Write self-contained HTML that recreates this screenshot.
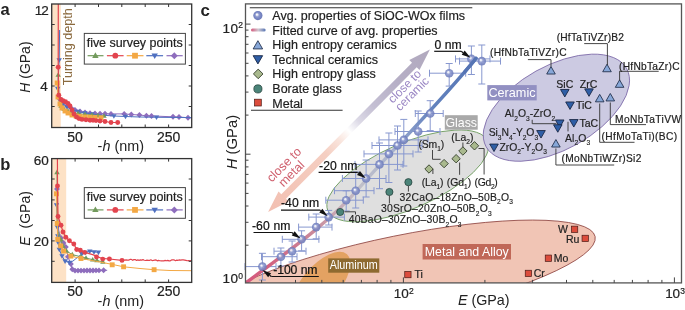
<!DOCTYPE html>
<html><head><meta charset="utf-8"><style>
html,body{margin:0;padding:0;background:#fff;width:685px;height:310px;overflow:hidden;font-family:"Liberation Sans",sans-serif}
svg{display:block;will-change:transform}
</style></head><body>
<svg width="685" height="310" viewBox="0 0 685 310" font-family="Liberation Sans, sans-serif">
<rect width="685" height="310" fill="#fff"/>
<defs>
<radialGradient id="sph" cx="0.5" cy="0.5" r="0.5" fx="0.37" fy="0.36">
 <stop offset="0" stop-color="#ffffff"/>
 <stop offset="0.17" stop-color="#eef0f8"/>
 <stop offset="0.42" stop-color="#909cd0"/>
 <stop offset="0.72" stop-color="#7886c3"/>
 <stop offset="1" stop-color="#6b7ab8"/>
</radialGradient>
<linearGradient id="fitg" gradientUnits="userSpaceOnUse" x1="246" y1="283" x2="478" y2="57">
 <stop offset="0" stop-color="#d4587c"/>
 <stop offset="0.1" stop-color="#d26482"/>
 <stop offset="0.27" stop-color="#ca8c9c"/>
 <stop offset="0.36" stop-color="#c8aab6"/>
 <stop offset="0.45" stop-color="#c2c0c8"/>
 <stop offset="0.6" stop-color="#aab4d0"/>
 <stop offset="0.72" stop-color="#7890c4"/>
 <stop offset="0.8" stop-color="#6282bd"/>
 <stop offset="1" stop-color="#5574b4"/>
</linearGradient>
<linearGradient id="legfit" x1="0" y1="0" x2="1" y2="0">
 <stop offset="0" stop-color="#d4587c"/>
 <stop offset="0.5" stop-color="#d0c8d0"/>
 <stop offset="1" stop-color="#5574b4"/>
</linearGradient>
<linearGradient id="arrg" gradientUnits="userSpaceOnUse" x1="429.9" y1="49.4" x2="268.1" y2="212.1">
 <stop offset="0" stop-color="#b1a9be"/>
 <stop offset="0.2" stop-color="#b6afc6"/>
 <stop offset="0.35" stop-color="#c4bfd3"/>
 <stop offset="0.44" stop-color="#dcd9e6"/>
 <stop offset="0.5" stop-color="#ffffff"/>
 <stop offset="0.56" stop-color="#f9e4dc"/>
 <stop offset="0.64" stop-color="#f5cfc2"/>
 <stop offset="1" stop-color="#f2bfb1"/>
</linearGradient>
<clipPath id="clipc"><rect x="245.5" y="4" width="436" height="279"/></clipPath>
<clipPath id="clipa"><rect x="51.7" y="4" width="140" height="123.5"/></clipPath>
<clipPath id="clipb"><rect x="51.7" y="158.6" width="140" height="123.8"/></clipPath>
</defs>
<g clip-path="url(#clipc)">
<ellipse cx="401.3" cy="276" rx="197.8" ry="40.5" transform="rotate(-11.5 401.3 276)" fill="#f1c5b5" stroke="#8e4642" stroke-width="0.8"/>
<ellipse cx="320.5" cy="284.8" rx="40.5" ry="18.6" transform="rotate(-49.7 320.5 284.8)" fill="#e3a262"/>
<ellipse cx="407.7" cy="175.9" rx="87.1" ry="32.6" transform="rotate(-23.6 407.7 175.9)" fill="#dfdfdf" stroke="#6a9a5a" stroke-width="0.8"/>
<ellipse cx="556.4" cy="107.7" rx="80.4" ry="41.9" transform="rotate(-29.1 556.4 107.7)" fill="#cccae2" stroke="#7d6aa8" stroke-width="0.8"/>
</g>
<path d="M429.9,49.4 L409.3,59.9 L412.0,62.7 L281.3,194.2 L278.5,191.4 L268.1,212.1 L288.7,201.6 L286.0,198.8 L416.7,67.3 L419.5,70.1Z" fill="url(#arrg)"/>
<g font-family="Liberation Sans, sans-serif">
<text font-size="12" fill="#9a86c4" transform="translate(392.8,103.8) rotate(-45)">close to</text>
<text font-size="12" fill="#9a86c4" transform="translate(400.1,111.4) rotate(-45)">ceramic</text>
<text font-size="12.5" fill="#d0606e" transform="translate(271.7,182.8) rotate(-45)">close to</text>
<text font-size="12.5" fill="#d0606e" transform="translate(283.5,187.5) rotate(-45)">metal</text>
</g>
<g stroke="#8797cf" stroke-width="1" fill="none">
<path d="M245,266.6H276M245,263.1V270.1M276,263.1V270.1M262.4,253.3V280M258.9,253.3H265.9M258.9,280H265.9"/>
<path d="M261.5,256.7H297M261.5,253.2V260.2M297,253.2V260.2M280.9,248V266M277.4,248H284.4M277.4,266H284.4"/>
<path d="M274,251.2H306M274,247.7V254.7M306,247.7V254.7M292.1,241V262M288.6,241H295.6M288.6,262H295.6"/>
<path d="M282.3,239.3H318.9M282.3,235.8V242.8M318.9,235.8V242.8M301.6,230.8V250.8M298.1,230.8H305.1M298.1,250.8H305.1"/>
<path d="M298.6,227.1H332M298.6,223.6V230.6M332,223.6V230.6M316.2,214V238.8M312.7,214H319.7M312.7,238.8H319.7"/>
<path d="M308.8,217.1H344.4M308.8,213.6V220.6M344.4,213.6V220.6M328.7,210.4V225M325.2,210.4H332.2M325.2,225H332.2"/>
<path d="M325.8,200.2H363.3M325.8,196.7V203.7M363.3,196.7V203.7M346.2,190.8V211M342.7,190.8H349.7M342.7,211H349.7"/>
<path d="M334.5,190.7H374M334.5,187.2V194.2M374,187.2V194.2M355.7,172V208M352.2,172H359.2M352.2,208H359.2"/>
<path d="M342.4,178.5H386M342.4,175.0V182.0M386,175.0V182.0M366.1,160V197M362.6,160H369.6M362.6,197H369.6"/>
<path d="M355,164.4H403M355,160.9V167.9M403,160.9V167.9M379.5,143V188.7M376.0,143H383.0M376.0,188.7H383.0"/>
<path d="M364,153.9H413M364,150.4V157.4M413,150.4V157.4M388.9,133V182.5M385.4,133H392.4M385.4,182.5H392.4"/>
<path d="M372,145.5H422M372,142.0V149.0M422,142.0V149.0M397.5,126V170M394.0,126H401.0M394.0,170H401.0"/>
<path d="M379,139.9H428M379,136.4V143.4M428,136.4V143.4M403.8,119.4V166M400.3,119.4H407.3M400.3,166H407.3"/>
<path d="M395,131.5H440M395,128.0V135.0M440,128.0V135.0M418.2,111V152M414.7,111H421.7M414.7,152H421.7"/>
<path d="M415.3,113.5H443.2M415.3,110.0V117.0M443.2,110.0V117.0M430.2,100.7V130.6M426.7,100.7H433.7M426.7,130.6H433.7"/>
<path d="M429.5,73.2H465.7M429.5,69.7V76.7M465.7,69.7V76.7M449.2,63.5V86.1M445.7,63.5H452.7M445.7,86.1H452.7"/>
<path d="M455.5,58.9H490M455.5,55.4V62.4M490,55.4V62.4M471.4,46V74.5M467.9,46H474.9M467.9,74.5H474.9"/>
<path d="M459.5,61.1H500.5M459.5,57.6V64.6M500.5,57.6V64.6M481.8,45V84M478.3,45H485.3M478.3,84H485.3"/>
</g>
<path d="M245.8,283 C290,250 330,222 360,187 C390,152 440,103 476,58.4" stroke="url(#fitg)" stroke-width="3.4" fill="none" stroke-linecap="round" clip-path="url(#clipc)"/>
<circle cx="262.4" cy="266.6" r="4.3" fill="url(#sph)" fill-opacity="0.88"/>
<circle cx="280.9" cy="256.7" r="4.3" fill="url(#sph)" fill-opacity="0.88"/>
<circle cx="292.1" cy="251.2" r="4.3" fill="url(#sph)" fill-opacity="0.88"/>
<circle cx="301.6" cy="239.3" r="4.3" fill="url(#sph)" fill-opacity="0.88"/>
<circle cx="316.2" cy="227.1" r="4.3" fill="url(#sph)" fill-opacity="0.88"/>
<circle cx="328.7" cy="217.1" r="4.3" fill="url(#sph)" fill-opacity="0.88"/>
<circle cx="346.2" cy="200.2" r="4.3" fill="url(#sph)" fill-opacity="0.88"/>
<circle cx="355.7" cy="190.7" r="4.3" fill="url(#sph)" fill-opacity="0.88"/>
<circle cx="366.1" cy="178.5" r="4.3" fill="url(#sph)" fill-opacity="0.88"/>
<circle cx="379.5" cy="164.4" r="4.3" fill="url(#sph)" fill-opacity="0.88"/>
<circle cx="388.9" cy="153.9" r="4.3" fill="url(#sph)" fill-opacity="0.88"/>
<circle cx="397.5" cy="145.5" r="4.3" fill="url(#sph)" fill-opacity="0.88"/>
<circle cx="403.8" cy="139.9" r="4.3" fill="url(#sph)" fill-opacity="0.88"/>
<circle cx="418.2" cy="131.5" r="4.3" fill="url(#sph)" fill-opacity="0.88"/>
<circle cx="430.2" cy="113.5" r="4.3" fill="url(#sph)" fill-opacity="0.88"/>
<circle cx="449.2" cy="73.2" r="4.3" fill="url(#sph)" fill-opacity="0.88"/>
<circle cx="471.4" cy="58.9" r="4.3" fill="url(#sph)" fill-opacity="0.88"/>
<circle cx="481.8" cy="61.1" r="4.3" fill="url(#sph)" fill-opacity="0.88"/>
<path d="M464.8,71.9 C466.7,69.6 468.6,67.4 470.5,65.1 C472.4,62.9 474.2,60.6 476,58.4" stroke="#5574b4" stroke-width="3.4" fill="none" stroke-linecap="round"/>
<rect x="245.5" y="3.9" width="436" height="279" fill="none" stroke="#555" stroke-width="1.3"/>
<path d="M261.6,282.9V279.9M295.5,282.9V279.9M321.8,282.9V279.9M343.2,282.9V279.9M361.4,282.9V279.9M377.1,282.9V279.9M390.9,282.9V279.9M403.4,282.9V277.4M484.9,282.9V279.9M532.6,282.9V279.9M566.5,282.9V279.9M592.8,282.9V279.9M614.2,282.9V279.9M632.4,282.9V279.9M648.1,282.9V279.9M661.9,282.9V279.9M674.4,282.9V277.4M245.5,245.2H248.5M245.5,222.3H248.5M245.5,206.0H248.5M245.5,193.4H248.5M245.5,183.1H248.5M245.5,174.4H248.5M245.5,166.9H248.5M245.5,160.2H248.5M245.5,154.2H250.5M245.5,115.1H248.5M245.5,92.1H248.5M245.5,75.9H248.5M245.5,63.3H248.5M245.5,53.0H248.5M245.5,44.3H248.5M245.5,36.7H248.5M245.5,30.1H248.5M245.5,24.1H250.5" stroke="#444" stroke-width="1" fill="none"/>
<path d="M249.8,7.8H472.3M251,110.2H342.6" stroke="#333" stroke-width="1.1"/>
<circle cx="257.9" cy="15.6" r="4.6" fill="url(#sph)"/>
<rect x="251" y="28.4" width="14.6" height="3" rx="1.5" fill="url(#legfit)"/>
<path d="M257.9,40.68L262.65,48.94L253.15,48.94Z" fill="#87a7d8" stroke="#1e2c48" stroke-width="0.85"/>
<path d="M257.9,63.92L262.65,55.66L253.15,55.66Z" fill="#2f5ea6" stroke="#15223f" stroke-width="0.85"/>
<path d="M258.2,69.10000000000001L263.0,73.9L258.2,78.7L253.39999999999998,73.9Z" fill="#a9b98e" stroke="#2c3624" stroke-width="0.85"/>
<circle cx="257.9" cy="88.9" r="4.1" fill="#4b8479" stroke="#1e3a34" stroke-width="0.7"/>
<rect x="254.50" y="99.20" width="6.8" height="6.8" fill="#dc4c3c" stroke="#4a1a14" stroke-width="0.7"/>
<g font-family="Liberation Sans, sans-serif">
<text x="272.3" y="19.9" font-size="12.5" fill="#1e1e1e" text-anchor="start" textLength="192.8" lengthAdjust="spacing" stroke="#1e1e1e" stroke-width="0.2"  >Avg. properties of SiOC-WOx films</text>
<text x="272.3" y="34.53" font-size="12.5" fill="#1e1e1e" text-anchor="start" textLength="165.3" lengthAdjust="spacing" stroke="#1e1e1e" stroke-width="0.2"  >Fitted curve of avg. properties</text>
<text x="272.3" y="49.16" font-size="12.5" fill="#1e1e1e" text-anchor="start" stroke="#1e1e1e" stroke-width="0.2"  >High entropy ceramics</text>
<text x="272.3" y="63.79" font-size="12.5" fill="#1e1e1e" text-anchor="start" stroke="#1e1e1e" stroke-width="0.2"  >Technical ceramics</text>
<text x="272.3" y="78.42" font-size="12.5" fill="#1e1e1e" text-anchor="start" stroke="#1e1e1e" stroke-width="0.2"  >High entropy glass</text>
<text x="272.3" y="93.05000000000001" font-size="12.5" fill="#1e1e1e" text-anchor="start" stroke="#1e1e1e" stroke-width="0.2"  >Borate glass</text>
<text x="272.3" y="107.68" font-size="12.5" fill="#1e1e1e" text-anchor="start" stroke="#1e1e1e" stroke-width="0.2"  >Metal</text>
</g>
<g font-family="Liberation Sans, sans-serif">
<text x="434.6" y="49.4" font-size="12.2" fill="#111" text-anchor="start" textLength="27" lengthAdjust="spacing" stroke="#111" stroke-width="0.2"  >0 nm</text>
<text x="319.1" y="170.4" font-size="12.2" fill="#111" text-anchor="start" textLength="38.3" lengthAdjust="spacing" stroke="#111" stroke-width="0.2"  >-20 nm</text>
<text x="280.9" y="207.4" font-size="12.2" fill="#111" text-anchor="start" textLength="38.3" lengthAdjust="spacing" stroke="#111" stroke-width="0.2"  >-40 nm</text>
<text x="251.9" y="230.3" font-size="12.2" fill="#111" text-anchor="start" textLength="38.6" lengthAdjust="spacing" stroke="#111" stroke-width="0.2"  >-60 nm</text>
<text x="273.2" y="274.4" font-size="12.2" fill="#111" text-anchor="start" textLength="44.3" lengthAdjust="spacing" stroke="#111" stroke-width="0.2"  >-100 nm</text>
</g>
<path d="M434.2,51.3H461.2" stroke="#111" stroke-width="1.2" fill="none"/>
<path d="M461.2,51.3L463.20,52.68" stroke="#111" stroke-width="1.2" fill="none"/>
<path d="M470.6,57.8L461.78,54.74L464.62,50.62Z" fill="#111"/>
<path d="M318.6,172.4H357.6" stroke="#111" stroke-width="1.2" fill="none"/>
<path d="M357.6,172.4L358.49,173.04" stroke="#111" stroke-width="1.2" fill="none"/>
<path d="M365.8,178.3L357.03,175.07L359.95,171.01Z" fill="#111"/>
<path d="M281,210.1H320.2" stroke="#111" stroke-width="1.2" fill="none"/>
<path d="M320.2,210.1L320.83,210.61" stroke="#111" stroke-width="1.2" fill="none"/>
<path d="M327.8,216.3L319.25,212.55L322.41,208.67Z" fill="#111"/>
<path d="M253.5,232.5H291.9" stroke="#111" stroke-width="1.2" fill="none"/>
<path d="M291.9,232.5L293.19,233.39" stroke="#111" stroke-width="1.2" fill="none"/>
<path d="M300.6,238.5L291.77,235.45L294.61,231.33Z" fill="#111"/>
<path d="M318.8,276.5H271.3" stroke="#111" stroke-width="1.2" fill="none"/>
<path d="M271.3,276.5L269.63,275.26" stroke="#111" stroke-width="1.2" fill="none"/>
<path d="M262.4,269.9L271.12,273.25L268.14,277.27Z" fill="#111"/>
<rect x="487.3" y="85.1" width="49.4" height="15.3" fill="#9290c2"/>
<text x="512.0" y="97.2" font-size="12.9" fill="#fff" text-anchor="middle" textLength="47.2" lengthAdjust="spacingAndGlyphs" font-family="Liberation Sans, sans-serif">Ceramic</text>
<rect x="444.8" y="115.2" width="32.9" height="14.5" fill="#a9a9a9"/>
<text x="461.25" y="127.2" font-size="12.7" fill="#fff" text-anchor="middle" textLength="31.6" lengthAdjust="spacingAndGlyphs" font-family="Liberation Sans, sans-serif">Glass</text>
<rect x="422.6" y="244" width="88.4" height="15.5" fill="#c06858"/>
<text x="466.8" y="255.9" font-size="12.5" fill="#fff" text-anchor="middle" textLength="84" lengthAdjust="spacingAndGlyphs" font-family="Liberation Sans, sans-serif">Metal and Alloy</text>
<rect x="328.2" y="258.4" width="51.1" height="14.3" fill="#8e6a30"/>
<text x="353.75" y="269" font-size="12.5" fill="#fff" text-anchor="middle" textLength="48" lengthAdjust="spacingAndGlyphs" font-family="Liberation Sans, sans-serif">Aluminum</text>
<path d="M474.5,141.60000000000002L478.7,145.8L474.5,150.0L470.3,145.8Z" fill="#a9b98e" stroke="#2c3624" stroke-width="0.85"/>
<path d="M462.9,146.8L467.09999999999997,151L462.9,155.2L458.7,151Z" fill="#a9b98e" stroke="#2c3624" stroke-width="0.85"/>
<path d="M456.1,154.5L460.3,158.7L456.1,162.89999999999998L451.90000000000003,158.7Z" fill="#a9b98e" stroke="#2c3624" stroke-width="0.85"/>
<path d="M444.1,159.4L448.3,163.6L444.1,167.79999999999998L439.90000000000003,163.6Z" fill="#a9b98e" stroke="#2c3624" stroke-width="0.85"/>
<path d="M429,164.8L433.2,169L429,173.2L424.8,169Z" fill="#a9b98e" stroke="#2c3624" stroke-width="0.85"/>
<circle cx="408.4" cy="182.2" r="3.6" fill="#4b8479" stroke="#1e3a34" stroke-width="0.7"/>
<circle cx="389.4" cy="192" r="3.6" fill="#4b8479" stroke="#1e3a34" stroke-width="0.7"/>
<circle cx="340.2" cy="212" r="3.6" fill="#4b8479" stroke="#1e3a34" stroke-width="0.7"/>
<path d="M551,66.56L555.30,74.04L546.70,74.04Z" fill="#87a7d8" stroke="#1e2c48" stroke-width="0.85"/>
<path d="M607,64.26L611.30,71.74L602.70,71.74Z" fill="#87a7d8" stroke="#1e2c48" stroke-width="0.85"/>
<path d="M619.6,79.86L623.90,87.34L615.30,87.34Z" fill="#87a7d8" stroke="#1e2c48" stroke-width="0.85"/>
<path d="M599.7,94.36L604.00,101.84L595.40,101.84Z" fill="#87a7d8" stroke="#1e2c48" stroke-width="0.85"/>
<path d="M610.3,93.46L614.60,100.94L606.00,100.94Z" fill="#87a7d8" stroke="#1e2c48" stroke-width="0.85"/>
<path d="M555.9,139.56L560.20,147.04L551.60,147.04Z" fill="#87a7d8" stroke="#1e2c48" stroke-width="0.85"/>
<path d="M564.8,96.94L569.10,89.46L560.50,89.46Z" fill="#2f5ea6" stroke="#15223f" stroke-width="0.85"/>
<path d="M589,96.34L593.30,88.86L584.70,88.86Z" fill="#2f5ea6" stroke="#15223f" stroke-width="0.85"/>
<path d="M570,109.44L574.30,101.96L565.70,101.96Z" fill="#2f5ea6" stroke="#15223f" stroke-width="0.85"/>
<path d="M573.8,127.04L578.10,119.56L569.50,119.56Z" fill="#2f5ea6" stroke="#15223f" stroke-width="0.85"/>
<path d="M559.7,127.44L564.00,119.96L555.40,119.96Z" fill="#2f5ea6" stroke="#15223f" stroke-width="0.85"/>
<path d="M557.8,132.24L562.10,124.76L553.50,124.76Z" fill="#2f5ea6" stroke="#15223f" stroke-width="0.85"/>
<path d="M541,138.04L545.30,130.56L536.70,130.56Z" fill="#2f5ea6" stroke="#15223f" stroke-width="0.85"/>
<path d="M494,151.54L498.30,144.06L489.70,144.06Z" fill="#2f5ea6" stroke="#15223f" stroke-width="0.85"/>
<rect x="571.45" y="226.15" width="6.3" height="6.3" fill="#dc4c3c" stroke="#4a1a14" stroke-width="0.7"/>
<rect x="582.05" y="235.25" width="6.3" height="6.3" fill="#dc4c3c" stroke="#4a1a14" stroke-width="0.7"/>
<rect x="545.25" y="255.05" width="6.3" height="6.3" fill="#dc4c3c" stroke="#4a1a14" stroke-width="0.7"/>
<rect x="525.25" y="270.25" width="6.3" height="6.3" fill="#dc4c3c" stroke="#4a1a14" stroke-width="0.7"/>
<rect x="404.75" y="271.45" width="6.3" height="6.3" fill="#dc4c3c" stroke="#4a1a14" stroke-width="0.7"/>
<path d="M527.9,59.6H551V66.5M584.2,43.6H607.4V65M619.4,71.3H658.7M619.6,71.3V80.5M599.7,103.5V142.3H634.5M610.3,102.5V124.6H646M532.2,119.8V123.7H556.4M568,121.8V131.4M555.9,148.5V165H614.2M432.5,150V159.3H440.6M462.9,142.5V147M478.5,148.5H484.1V174.5M459.6,162.5V174.8M432.9,169V174M408.4,185.8V191.6M389.4,195.6V203.5M344.6,211.8H355.5V214.5" stroke="#333" stroke-width="0.9" fill="none"/>
<g font-family="Liberation Sans, sans-serif" fill="#222">
<text x="490" y="56.1" font-size="10.2" fill="#222" text-anchor="start" textLength="76.5" lengthAdjust="spacing" stroke="#222" stroke-width="0.2"  >(HfNbTaTiVZr)C</text>
<text x="556.7" y="41.1" font-size="10.2" fill="#222" text-anchor="start" textLength="67.2" lengthAdjust="spacing" stroke="#222" stroke-width="0.2"  >(HfTaTiVZr)B2</text>
<text x="619" y="70" font-size="10.2" fill="#222" text-anchor="start" textLength="60.5" lengthAdjust="spacing" stroke="#222" stroke-width="0.2"  >(HfNbTaZr)C</text>
<text x="556.3" y="87.6" font-size="10.5" fill="#222" text-anchor="start" stroke="#222" stroke-width="0.2"  >SiC</text>
<text x="579.8" y="87.6" font-size="10.5" fill="#222" text-anchor="start" stroke="#222" stroke-width="0.2"  >ZrC</text>
<text x="575.9" y="108.9" font-size="10.5" fill="#222" text-anchor="start" stroke="#222" stroke-width="0.2"  >TiC</text>
<text x="579.4" y="126.7" font-size="10.5" fill="#222" text-anchor="start" stroke="#222" stroke-width="0.2"  >TaC</text>
<text x="615.1" y="122.6" font-size="10.2" fill="#222" text-anchor="start" textLength="65.9" lengthAdjust="spacing" stroke="#222" stroke-width="0.2"  >MoNbTaTiVW</text>
<text x="601.6" y="139.7" font-size="10.2" fill="#222" text-anchor="start" textLength="75.5" lengthAdjust="spacing" stroke="#222" stroke-width="0.2"  >(HfMoTaTi)(BC)</text>
<text x="561.5" y="161.6" font-size="10.2" fill="#222" text-anchor="start" textLength="79.8" lengthAdjust="spacing" stroke="#222" stroke-width="0.2"  >(MoNbTiWZr)Si2</text>
</g>
<text x="504.8" y="117.4" font-size="10.4" fill="#222" stroke="#222" stroke-width="0.15" font-family="Liberation Sans, sans-serif" textLength="50.3" lengthAdjust="spacing">Al<tspan font-size="6.6" dy="3.2">2</tspan><tspan dy="-3.2">​</tspan>O<tspan font-size="6.6" dy="3.2">3</tspan><tspan dy="-3.2">​</tspan>-ZrO<tspan font-size="6.6" dy="3.2">2</tspan><tspan dy="-3.2">​</tspan></text>
<text x="565.1" y="142.1" font-size="10.4" fill="#222" stroke="#222" stroke-width="0.15" font-family="Liberation Sans, sans-serif" textLength="25.2" lengthAdjust="spacing">Al<tspan font-size="6.6" dy="3.2">2</tspan><tspan dy="-3.2">​</tspan>O<tspan font-size="6.6" dy="3.2">3</tspan><tspan dy="-3.2">​</tspan></text>
<text x="488.7" y="136.3" font-size="10.4" fill="#222" stroke="#222" stroke-width="0.15" font-family="Liberation Sans, sans-serif" textLength="49.3" lengthAdjust="spacing">Si<tspan font-size="6.6" dy="3.2">3</tspan><tspan dy="-3.2">​</tspan>N<tspan font-size="6.6" dy="3.2">4</tspan><tspan dy="-3.2">​</tspan>-Y<tspan font-size="6.6" dy="3.2">2</tspan><tspan dy="-3.2">​</tspan>O<tspan font-size="6.6" dy="3.2">3</tspan><tspan dy="-3.2">​</tspan></text>
<text x="499.4" y="150.8" font-size="10.4" fill="#222" stroke="#222" stroke-width="0.15" font-family="Liberation Sans, sans-serif" textLength="47.4" lengthAdjust="spacing">ZrO<tspan font-size="6.6" dy="3.2">2</tspan><tspan dy="-3.2">​</tspan>-Y<tspan font-size="6.6" dy="3.2">2</tspan><tspan dy="-3.2">​</tspan>O<tspan font-size="6.6" dy="3.2">3</tspan><tspan dy="-3.2">​</tspan></text>
<text x="418.4" y="147.7" font-size="10.4" fill="#222" stroke="#222" stroke-width="0.15" font-family="Liberation Sans, sans-serif" textLength="25.7" lengthAdjust="spacing">(Sm<tspan font-size="6.6" dy="3.2">1</tspan><tspan dy="-3.2">​</tspan>)</text>
<text x="451.3" y="141" font-size="10.4" fill="#222" stroke="#222" stroke-width="0.15" font-family="Liberation Sans, sans-serif" textLength="22.2" lengthAdjust="spacing">(La<tspan font-size="6.6" dy="3.2">2</tspan><tspan dy="-3.2">​</tspan>)</text>
<text x="421.7" y="185.8" font-size="10.4" fill="#222" stroke="#222" stroke-width="0.15" font-family="Liberation Sans, sans-serif" textLength="21.8" lengthAdjust="spacing">(La<tspan font-size="6.6" dy="3.2">1</tspan><tspan dy="-3.2">​</tspan>)</text>
<text x="446.8" y="185.8" font-size="10.4" fill="#222" stroke="#222" stroke-width="0.15" font-family="Liberation Sans, sans-serif" textLength="24.4" lengthAdjust="spacing">(Gd<tspan font-size="6.6" dy="3.2">1</tspan><tspan dy="-3.2">​</tspan>)</text>
<text x="474.5" y="185.8" font-size="10.4" fill="#222" stroke="#222" stroke-width="0.15" font-family="Liberation Sans, sans-serif" textLength="23.2" lengthAdjust="spacing">(Gd<tspan font-size="6.6" dy="3.2">2</tspan><tspan dy="-3.2">​</tspan>)</text>
<text x="399.6" y="200.7" font-size="10.4" fill="#222" stroke="#222" stroke-width="0.15" font-family="Liberation Sans, sans-serif" textLength="113.6" lengthAdjust="spacing">32CaO–18ZnO–50B<tspan font-size="6.6" dy="3.2">2</tspan><tspan dy="-3.2">​</tspan>O<tspan font-size="6.6" dy="3.2">3</tspan><tspan dy="-3.2">​</tspan></text>
<text x="381" y="212.4" font-size="10.4" fill="#222" stroke="#222" stroke-width="0.15" font-family="Liberation Sans, sans-serif" textLength="110.9" lengthAdjust="spacing">30SrO–20ZnO–50B<tspan font-size="6.6" dy="3.2">2</tspan><tspan dy="-3.2">​</tspan>O<tspan font-size="6.6" dy="3.2">3</tspan><tspan dy="-3.2">​</tspan></text>
<text x="348.7" y="223.4" font-size="10.4" fill="#222" stroke="#222" stroke-width="0.15" font-family="Liberation Sans, sans-serif" textLength="113" lengthAdjust="spacing">40BaO–30ZnO–30B<tspan font-size="6.6" dy="3.2">2</tspan><tspan dy="-3.2">​</tspan>O<tspan font-size="6.6" dy="3.2">3</tspan><tspan dy="-3.2">​</tspan></text>
<g font-family="Liberation Sans, sans-serif" fill="#222">
<text x="558" y="233.4" font-size="10.5" fill="#222" text-anchor="start" stroke="#222" stroke-width="0.2"  >W</text>
<text x="566" y="243.2" font-size="10.5" fill="#222" text-anchor="start" stroke="#222" stroke-width="0.2"  >Ru</text>
<text x="553.8" y="261.7" font-size="10.5" fill="#222" text-anchor="start" stroke="#222" stroke-width="0.2"  >Mo</text>
<text x="533.7" y="277.2" font-size="10.5" fill="#222" text-anchor="start" stroke="#222" stroke-width="0.2"  >Cr</text>
<text x="414.6" y="277.8" font-size="10.5" fill="#222" text-anchor="start" stroke="#222" stroke-width="0.2"  >Ti</text>
</g>
<g font-family="Liberation Sans, sans-serif" fill="#222">
<text x="200.6" y="15.5" font-size="17" font-weight="bold" textLength="9.4" lengthAdjust="spacingAndGlyphs">c</text>
<text x="222.5" y="32.9" font-size="13.5" fill="#222" text-anchor="start" textLength="15.5" lengthAdjust="spacing" stroke="#222" stroke-width="0.2"  >10</text>
<text x="238.3" y="28.2" font-size="8.5" fill="#222" text-anchor="start" stroke="#222" stroke-width="0.2"  >2</text>
<text x="222.5" y="282.7" font-size="13.5" fill="#222" text-anchor="start" textLength="15.5" lengthAdjust="spacing" stroke="#222" stroke-width="0.2"  >10</text>
<text x="238.3" y="278.6" font-size="8.5" fill="#222" text-anchor="start" stroke="#222" stroke-width="0.2"  >0</text>
<text x="393.7" y="298.4" font-size="13.5" fill="#222" text-anchor="start" textLength="15" lengthAdjust="spacing" stroke="#222" stroke-width="0.2"  >10</text>
<text x="408.9" y="293.6" font-size="8.5" fill="#222" text-anchor="start" stroke="#222" stroke-width="0.2"  >2</text>
<text x="665.2" y="297.8" font-size="13.5" fill="#222" text-anchor="start" textLength="14.8" lengthAdjust="spacing" stroke="#222" stroke-width="0.2"  >10</text>
<text x="680.2" y="294.2" font-size="8.5" fill="#222" text-anchor="start" stroke="#222" stroke-width="0.2"  >3</text>
<text x="457.9" y="304.6" font-size="14.3"><tspan font-style="italic">E</tspan> (GPa)</text>
<text transform="translate(237.2,169.2) rotate(-90)" font-size="14.8"><tspan font-style="italic">H</tspan> (GPa)</text>
</g>
<rect x="51.7" y="4" width="9.099999999999994" height="123.5" fill="#fde2c6"/>
<g clip-path="url(#clipa)">
<path d="M58,93 L60,99 L63,103 L67,106 L71,108 L75,110 L80,111.5 L85,112.5 L90,113.3 L100,113.7 L111,113.9 L124.2,113.9 L131.3,114.5 L139.4,115 L146.4,115.8 L151.5,116 L157.7,116.2 L173,116.8 L179,117 L188,117.7 L192,117.8" stroke="#8e6dbd" stroke-width="1.0" fill="none" stroke-linejoin="round"/>
<path d="M60,96.06L62.94,99L60,101.94L57.06,99Z" fill="#8e6dbd"/>
<path d="M63,100.06L65.94,103L63,105.94L60.06,103Z" fill="#8e6dbd"/>
<path d="M67,103.06L69.94,106L67,108.94L64.06,106Z" fill="#8e6dbd"/>
<path d="M71,105.06L73.94,108L71,110.94L68.06,108Z" fill="#8e6dbd"/>
<path d="M75,107.06L77.94,110L75,112.94L72.06,110Z" fill="#8e6dbd"/>
<path d="M80,108.56L82.94,111.5L80,114.44L77.06,111.5Z" fill="#8e6dbd"/>
<path d="M85,109.56L87.94,112.5L85,115.44L82.06,112.5Z" fill="#8e6dbd"/>
<path d="M90,110.36L92.94,113.3L90,116.24L87.06,113.3Z" fill="#8e6dbd"/>
<path d="M95,110.56L97.94,113.5L95,116.44L92.06,113.5Z" fill="#8e6dbd"/>
<path d="M100,110.76L102.94,113.7L100,116.64L97.06,113.7Z" fill="#8e6dbd"/>
<path d="M105,110.86L107.94,113.8L105,116.74L102.06,113.8Z" fill="#8e6dbd"/>
<path d="M111,110.96L113.94,113.9L111,116.84L108.06,113.9Z" fill="#8e6dbd"/>
<path d="M124.2,110.96L127.14,113.9L124.2,116.84L121.26,113.9Z" fill="#8e6dbd"/>
<path d="M131.3,111.56L134.24,114.5L131.3,117.44L128.36,114.5Z" fill="#8e6dbd"/>
<path d="M139.4,112.06L142.34,115L139.4,117.94L136.46,115Z" fill="#8e6dbd"/>
<path d="M146.4,112.86L149.34,115.8L146.4,118.74L143.46,115.8Z" fill="#8e6dbd"/>
<path d="M151.5,113.06L154.44,116L151.5,118.94L148.56,116Z" fill="#8e6dbd"/>
<path d="M173,113.86L175.94,116.8L173,119.74L170.06,116.8Z" fill="#8e6dbd"/>
<path d="M179,114.06L181.94,117L179,119.94L176.06,117Z" fill="#8e6dbd"/>
<path d="M188,114.76L190.94,117.7L188,120.64L185.06,117.7Z" fill="#8e6dbd"/>
<path d="M59.6,30 L59.2,60 L58.4,75 L57.7,88.7 L58.5,97 L60,101 L63,104 L67,107 L72,109.5 L78,111.5 L85,113 L92,114 L100,115 L113.9,116 L125.5,116.5 L140,117 L156.5,117.3 L192,117.6" stroke="#4f70c0" stroke-width="1.0" fill="none" stroke-linejoin="round"/>
<path d="M59.2,62.82L61.90,58.16L56.51,58.16Z" fill="#4f70c0"/>
<path d="M57.7,91.52L60.40,86.86L55.01,86.86Z" fill="#4f70c0"/>
<path d="M60,103.82L62.70,99.16L57.30,99.16Z" fill="#4f70c0"/>
<path d="M63,106.82L65.69,102.16L60.30,102.16Z" fill="#4f70c0"/>
<path d="M67,109.82L69.69,105.16L64.31,105.16Z" fill="#4f70c0"/>
<path d="M72,112.32L74.69,107.66L69.31,107.66Z" fill="#4f70c0"/>
<path d="M78,114.32L80.69,109.66L75.31,109.66Z" fill="#4f70c0"/>
<path d="M85,115.82L87.69,111.16L82.31,111.16Z" fill="#4f70c0"/>
<path d="M92,116.82L94.69,112.16L89.31,112.16Z" fill="#4f70c0"/>
<path d="M113.9,118.82L116.59,114.16L111.21,114.16Z" fill="#4f70c0"/>
<path d="M125.5,119.32L128.19,114.66L122.81,114.66Z" fill="#4f70c0"/>
<path d="M156.5,120.12L159.19,115.46L153.81,115.46Z" fill="#4f70c0"/>
<path d="M58.2,75 L59,98 L61,106 L64,109 L68,111 L72,112.5 L78,113.5 L85,114.5 L92,115 L98,115.5 L104,116" stroke="#729a5c" stroke-width="1.0" fill="none" stroke-linejoin="round"/>
<path d="M58.2,72.18L60.90,76.84L55.51,76.84Z" fill="#729a5c"/>
<path d="M61,103.18L63.70,107.84L58.30,107.84Z" fill="#729a5c"/>
<path d="M64,106.18L66.69,110.84L61.30,110.84Z" fill="#729a5c"/>
<path d="M68,108.18L70.69,112.84L65.31,112.84Z" fill="#729a5c"/>
<path d="M72,109.68L74.69,114.34L69.31,114.34Z" fill="#729a5c"/>
<path d="M78,110.68L80.69,115.34L75.31,115.34Z" fill="#729a5c"/>
<path d="M85,111.68L87.69,116.34L82.31,116.34Z" fill="#729a5c"/>
<path d="M92,112.18L94.69,116.84L89.31,116.84Z" fill="#729a5c"/>
<path d="M98,112.68L100.69,117.34L95.31,117.34Z" fill="#729a5c"/>
<path d="M104,113.18L106.69,117.84L101.31,117.84Z" fill="#729a5c"/>
<path d="M57.2,83 L58,97 L60,104 L62,108 L65,111 L68,113 L72,115 L76,116 L80,116.5 L85,117 L90,117.2 L95,117.5 L101,117.8" stroke="#f3a844" stroke-width="1.0" fill="none" stroke-linejoin="round"/>
<rect x="54.75" y="80.55" width="4.9" height="4.9" fill="#f3a844"/>
<rect x="55.55" y="94.55" width="4.9" height="4.9" fill="#f3a844"/>
<rect x="57.55" y="101.55" width="4.9" height="4.9" fill="#f3a844"/>
<rect x="59.55" y="105.55" width="4.9" height="4.9" fill="#f3a844"/>
<rect x="62.55" y="108.55" width="4.9" height="4.9" fill="#f3a844"/>
<rect x="65.55" y="110.55" width="4.9" height="4.9" fill="#f3a844"/>
<rect x="69.55" y="112.55" width="4.9" height="4.9" fill="#f3a844"/>
<rect x="73.55" y="113.55" width="4.9" height="4.9" fill="#f3a844"/>
<rect x="77.55" y="114.05" width="4.9" height="4.9" fill="#f3a844"/>
<rect x="82.55" y="114.55" width="4.9" height="4.9" fill="#f3a844"/>
<rect x="87.55" y="114.75" width="4.9" height="4.9" fill="#f3a844"/>
<rect x="92.55" y="115.05" width="4.9" height="4.9" fill="#f3a844"/>
<rect x="98.55" y="115.35" width="4.9" height="4.9" fill="#f3a844"/>
<path d="M58.3,0 L58.2,67.2 L58.8,95.3 L61,99.5 L63,100.8 L65.5,101.8 L68,103.5 L70,106 L72,110 L74,114 L76.5,117 L79,118.6 L82,119.4 L86,119.8 L90,120.2 L93,120.3 L96,120.6 L100,121 L105,121.5 L111,122.5 L117.7,122.5" stroke="#e2444e" stroke-width="1.2" fill="none" stroke-linejoin="round"/>
<circle cx="58.2" cy="67.2" r="2.45" fill="#e2444e"/>
<circle cx="58.8" cy="95.3" r="2.45" fill="#e2444e"/>
<circle cx="61" cy="99.5" r="2.45" fill="#e2444e"/>
<circle cx="63" cy="100.8" r="2.45" fill="#e2444e"/>
<circle cx="65.5" cy="101.8" r="2.45" fill="#e2444e"/>
<circle cx="68" cy="103.5" r="2.45" fill="#e2444e"/>
<circle cx="70" cy="106" r="2.45" fill="#e2444e"/>
<circle cx="72" cy="110" r="2.45" fill="#e2444e"/>
<circle cx="74" cy="114" r="2.45" fill="#e2444e"/>
<circle cx="76.5" cy="117" r="2.45" fill="#e2444e"/>
<circle cx="79" cy="118.6" r="2.45" fill="#e2444e"/>
<circle cx="82" cy="119.4" r="2.45" fill="#e2444e"/>
<circle cx="86" cy="119.8" r="2.45" fill="#e2444e"/>
<circle cx="90" cy="120.2" r="2.45" fill="#e2444e"/>
<circle cx="93" cy="120.3" r="2.45" fill="#e2444e"/>
<circle cx="96" cy="120.6" r="2.45" fill="#e2444e"/>
<circle cx="100" cy="121" r="2.45" fill="#e2444e"/>
<circle cx="105" cy="121.5" r="2.45" fill="#e2444e"/>
<circle cx="111" cy="122.5" r="2.45" fill="#e2444e"/>
<circle cx="117.7" cy="122.5" r="2.45" fill="#e2444e"/>
</g>
<rect x="51.7" y="4" width="140" height="123.5" fill="none" stroke="#333" stroke-width="1.3"/>
<path d="M75.1,127.5V124.5M75.1,4V7M98.5,127.5V124.5M98.5,4V7M121.8,127.5V124.5M121.8,4V7M145.2,127.5V124.5M145.2,4V7M168.6,127.5V124.5M168.6,4V7M51.7,24.5H54.7M191.7,24.5H188.7M51.7,45H54.7M191.7,45H188.7M51.7,65.5H54.7M191.7,65.5H188.7M51.7,86H54.7M191.7,86H188.7M51.7,106.5H54.7M191.7,106.5H188.7" stroke="#333" stroke-width="1" fill="none"/>
<rect x="51.7" y="158.6" width="14.5" height="123.79999999999998" fill="#fde2c6"/>
<g clip-path="url(#clipb)">
<path d="M57,189 L57.5,210 L58.5,230 L61,238 L63.5,243 L65.8,247 L68,256.8 L70.9,264 L72.3,269.2 L75,270.6 L80,270.6 L90,270.5 L100,270.3 L107.2,270.3" stroke="#8e6dbd" stroke-width="1.0" fill="none" stroke-linejoin="round"/>
<path d="M57,186.06L59.94,189L57,191.94L54.06,189Z" fill="#8e6dbd"/>
<path d="M61,235.06L63.94,238L61,240.94L58.06,238Z" fill="#8e6dbd"/>
<path d="M63.5,240.06L66.44,243L63.5,245.94L60.56,243Z" fill="#8e6dbd"/>
<path d="M65.8,244.06L68.74,247L65.8,249.94L62.86,247Z" fill="#8e6dbd"/>
<path d="M68,253.86L70.94,256.8L68,259.74L65.06,256.8Z" fill="#8e6dbd"/>
<path d="M70.9,261.06L73.84,264L70.9,266.94L67.96,264Z" fill="#8e6dbd"/>
<path d="M72.3,266.26L75.24,269.2L72.3,272.14L69.36,269.2Z" fill="#8e6dbd"/>
<path d="M75,267.66L77.94,270.6L75,273.54L72.06,270.6Z" fill="#8e6dbd"/>
<path d="M78,267.66L80.94,270.6L78,273.54L75.06,270.6Z" fill="#8e6dbd"/>
<path d="M81,267.66L83.94,270.6L81,273.54L78.06,270.6Z" fill="#8e6dbd"/>
<path d="M84,267.66L86.94,270.6L84,273.54L81.06,270.6Z" fill="#8e6dbd"/>
<path d="M87,267.56L89.94,270.5L87,273.44L84.06,270.5Z" fill="#8e6dbd"/>
<path d="M90,267.56L92.94,270.5L90,273.44L87.06,270.5Z" fill="#8e6dbd"/>
<path d="M93,267.56L95.94,270.5L93,273.44L90.06,270.5Z" fill="#8e6dbd"/>
<path d="M96,267.46L98.94,270.4L96,273.34L93.06,270.4Z" fill="#8e6dbd"/>
<path d="M99,267.46L101.94,270.4L99,273.34L96.06,270.4Z" fill="#8e6dbd"/>
<path d="M103.6,267.36L106.54,270.3L103.6,273.24L100.66,270.3Z" fill="#8e6dbd"/>
<path d="M56.5,205 L57,215 L57.3,227 L57.8,236 L58.5,243 L59.3,249.5 L62,256 L65.1,261.2 L69.4,262.6 L73,261 L78,257 L81.8,253.9 L89.8,251.3 L98.5,252.4" stroke="#4f70c0" stroke-width="1.0" fill="none" stroke-linejoin="round"/>
<path d="M56.5,207.82L59.20,203.16L53.80,203.16Z" fill="#4f70c0"/>
<path d="M57.3,229.82L59.99,225.16L54.60,225.16Z" fill="#4f70c0"/>
<path d="M57.8,238.82L60.49,234.16L55.10,234.16Z" fill="#4f70c0"/>
<path d="M58.5,245.82L61.20,241.16L55.80,241.16Z" fill="#4f70c0"/>
<path d="M59.3,252.32L61.99,247.66L56.60,247.66Z" fill="#4f70c0"/>
<path d="M62,258.82L64.69,254.16L59.30,254.16Z" fill="#4f70c0"/>
<path d="M65.1,264.02L67.79,259.36L62.40,259.36Z" fill="#4f70c0"/>
<path d="M69.4,265.42L72.09,260.76L66.71,260.76Z" fill="#4f70c0"/>
<path d="M81.8,256.72L84.50,252.06L79.10,252.06Z" fill="#4f70c0"/>
<path d="M85.5,255.32L88.19,250.66L82.81,250.66Z" fill="#4f70c0"/>
<path d="M89.8,254.12L92.50,249.46L87.10,249.46Z" fill="#4f70c0"/>
<path d="M94,254.82L96.69,250.16L91.31,250.16Z" fill="#4f70c0"/>
<path d="M98.5,255.22L101.19,250.56L95.81,250.56Z" fill="#4f70c0"/>
<path d="M57,172.4 L57.5,230 L60.7,239.4 L62.9,245.9 L66.5,251 L72.3,254.6 L81,256.8 L92.7,259.7 L102.9,261.9" stroke="#729a5c" stroke-width="1.0" fill="none" stroke-linejoin="round"/>
<path d="M57,169.58L59.70,174.24L54.30,174.24Z" fill="#729a5c"/>
<path d="M60.7,236.58L63.40,241.24L58.01,241.24Z" fill="#729a5c"/>
<path d="M62.9,243.08L65.59,247.74L60.20,247.74Z" fill="#729a5c"/>
<path d="M66.5,248.18L69.19,252.84L63.80,252.84Z" fill="#729a5c"/>
<path d="M72.3,251.78L75.00,256.44L69.60,256.44Z" fill="#729a5c"/>
<path d="M81,253.98L83.69,258.64L78.31,258.64Z" fill="#729a5c"/>
<path d="M86,255.18L88.69,259.84L83.31,259.84Z" fill="#729a5c"/>
<path d="M92.7,256.88L95.40,261.54L90.00,261.54Z" fill="#729a5c"/>
<path d="M97,257.68L99.69,262.34L94.31,262.34Z" fill="#729a5c"/>
<path d="M102.9,259.08L105.59,263.74L100.21,263.74Z" fill="#729a5c"/>
<path d="M56.5,193.8 L57.3,223.5 L57.8,239.4 L60.7,245.9 L63.6,251 L70.9,256.1 L81,258.5 L95.6,261.2 L110.9,264.1 L123.6,266.8 L140,268.5 L154.1,269.7 L170,270.5 L192,270.7" stroke="#f3a844" stroke-width="1.0" fill="none" stroke-linejoin="round"/>
<rect x="54.05" y="191.35" width="4.9" height="4.9" fill="#f3a844"/>
<rect x="54.85" y="221.05" width="4.9" height="4.9" fill="#f3a844"/>
<rect x="55.35" y="236.95" width="4.9" height="4.9" fill="#f3a844"/>
<rect x="58.25" y="243.45" width="4.9" height="4.9" fill="#f3a844"/>
<rect x="61.15" y="248.55" width="4.9" height="4.9" fill="#f3a844"/>
<rect x="68.45" y="253.65" width="4.9" height="4.9" fill="#f3a844"/>
<rect x="78.55" y="256.05" width="4.9" height="4.9" fill="#f3a844"/>
<rect x="109.75" y="262.35" width="4.9" height="4.9" fill="#f3a844"/>
<rect x="121.15" y="264.35" width="4.9" height="4.9" fill="#f3a844"/>
<rect x="151.65" y="267.25" width="4.9" height="4.9" fill="#f3a844"/>
<path d="M57.4,150 L57.5,186 L58,216.5 L61,225.2 L63,232 L65.8,237.2 L69.4,240.8 L73.8,244 L76.7,249.5 L80.3,250.3 L84.7,252.4 L92.7,254.6 L101.4,258.3 L109.4,259 L122,260.4 L123.5,259.8 L124.8,260.1 L126.1,259.87 L127.4,260.09 L128.7,260.09 L130.0,259.45 L131.3,259.38 L132.6,260.28 L133.9,259.64 L135.2,259.61 L136.5,260.46 L137.8,259.89 L139.1,260.31 L140.4,259.94 L141.7,260.15 L143.0,259.65 L144.3,260.22 L145.6,260.52 L146.9,260.18 L148.2,260.46 L149.5,260.43 L150.8,259.8 L152.1,260.61 L153.4,260.46 L154.7,260.18 L156.0,259.91 L157.3,260.85 L158.6,260.44 L159.9,260.73 L161.2,260.91 L162.5,260.74 L163.8,260.96 L165.1,260.37 L166.4,260.8 L167.7,260.39 L169.0,260.9 L170.3,260.81 L171.6,259.91 L172.9,259.92 L174.2,259.97 L175.5,260.75 L176.8,260.12 L178.1,260.29 L179.4,259.89 L180.7,260.07 L182.0,259.9 L183.3,259.83 L184.6,260.06 L185.9,260.43 L187.2,260.77 L188.5,260.51 L189.8,260.77 L191.1,260.69 L192.4,260.85" stroke="#e2444e" stroke-width="1.2" fill="none" stroke-linejoin="round"/>
<circle cx="57.5" cy="186" r="2.45" fill="#e2444e"/>
<circle cx="58" cy="216.5" r="2.45" fill="#e2444e"/>
<circle cx="61" cy="225.2" r="2.45" fill="#e2444e"/>
<circle cx="63" cy="232" r="2.45" fill="#e2444e"/>
<circle cx="65.8" cy="237.2" r="2.45" fill="#e2444e"/>
<circle cx="69.4" cy="240.8" r="2.45" fill="#e2444e"/>
<circle cx="73.8" cy="244" r="2.45" fill="#e2444e"/>
<circle cx="76.7" cy="249.5" r="2.45" fill="#e2444e"/>
<circle cx="80.3" cy="250.3" r="2.45" fill="#e2444e"/>
<circle cx="84.7" cy="252.4" r="2.45" fill="#e2444e"/>
<circle cx="96.5" cy="257" r="2.45" fill="#e2444e"/>
<circle cx="102.7" cy="259.1" r="2.45" fill="#e2444e"/>
<circle cx="109.4" cy="259" r="2.45" fill="#e2444e"/>
<circle cx="122" cy="260.4" r="2.45" fill="#e2444e"/>
</g>
<rect x="51.7" y="158.6" width="140" height="123.79999999999998" fill="none" stroke="#333" stroke-width="1.3"/>
<path d="M75.1,282.4V279.4M75.1,158.6V161.6M98.5,282.4V279.4M98.5,158.6V161.6M121.8,282.4V279.4M121.8,158.6V161.6M145.2,282.4V279.4M145.2,158.6V161.6M168.6,282.4V279.4M168.6,158.6V161.6M51.7,179H54.7M191.7,179H188.7M51.7,199.9H54.7M191.7,199.9H188.7M51.7,220.5H54.7M191.7,220.5H188.7M51.7,240.9H54.7M191.7,240.9H188.7M51.7,261.3H54.7M191.7,261.3H188.7" stroke="#333" stroke-width="1" fill="none"/>
<rect x="84.3" y="33.4" width="101.1" height="30.7" fill="#fff" stroke="#444" stroke-width="1"/>
<text x="86.7" y="46.5" font-size="12.5" fill="#222" text-anchor="start" textLength="96" lengthAdjust="spacing" stroke="#222" stroke-width="0.2" font-family="Liberation Sans, sans-serif" >five survey points</text>
<path d="M87.6,55.7H103.5" stroke="#729a5c" stroke-width="1.2"/>
<path d="M95.4,52.37L98.59,57.88L92.21,57.88Z" fill="#729a5c"/>
<path d="M106.9,55.7H123.6" stroke="#e2444e" stroke-width="1.2"/>
<circle cx="115.3" cy="55.7" r="2.9" fill="#e2444e"/>
<path d="M126.7,55.7H143.5" stroke="#f3a844" stroke-width="1.2"/>
<rect x="132.10" y="52.80" width="5.8" height="5.8" fill="#f3a844"/>
<path d="M146.3,55.7H163.1" stroke="#4f70c0" stroke-width="1.2"/>
<path d="M154.7,59.04L157.89,53.53L151.51,53.53Z" fill="#4f70c0"/>
<path d="M166.5,55.7H182.7" stroke="#8e6dbd" stroke-width="1.2"/>
<path d="M174.3,52.22L177.78,55.7L174.3,59.18L170.82,55.7Z" fill="#8e6dbd"/>
<rect x="84.3" y="187.6" width="101.1" height="30.7" fill="#fff" stroke="#444" stroke-width="1"/>
<text x="86.7" y="200.7" font-size="12.5" fill="#222" text-anchor="start" textLength="96" lengthAdjust="spacing" stroke="#222" stroke-width="0.2" font-family="Liberation Sans, sans-serif" >five survey points</text>
<path d="M87.6,209.9H103.5" stroke="#729a5c" stroke-width="1.2"/>
<path d="M95.4,206.56L98.59,212.08L92.21,212.08Z" fill="#729a5c"/>
<path d="M106.9,209.9H123.6" stroke="#e2444e" stroke-width="1.2"/>
<circle cx="115.3" cy="209.9" r="2.9" fill="#e2444e"/>
<path d="M126.7,209.9H143.5" stroke="#f3a844" stroke-width="1.2"/>
<rect x="132.10" y="207.00" width="5.8" height="5.8" fill="#f3a844"/>
<path d="M146.3,209.9H163.1" stroke="#4f70c0" stroke-width="1.2"/>
<path d="M154.7,213.24L157.89,207.72L151.51,207.72Z" fill="#4f70c0"/>
<path d="M166.5,209.9H182.7" stroke="#8e6dbd" stroke-width="1.2"/>
<path d="M174.3,206.42L177.78,209.9L174.3,213.38L170.82,209.9Z" fill="#8e6dbd"/>
<g font-family="Liberation Sans, sans-serif" fill="#222">
<text x="0.5" y="15.3" font-size="16.5" font-weight="bold">a</text>
<text x="0.3" y="170.3" font-size="16.5" font-weight="bold">b</text>
<text x="34.8" y="14.5" font-size="13.5" fill="#222" text-anchor="start" textLength="13.9" lengthAdjust="spacing" stroke="#222" stroke-width="0.2"  >12</text>
<text x="40.3" y="91.3" font-size="13.5" fill="#222" text-anchor="start" stroke="#222" stroke-width="0.2"  >4</text>
<text x="33.7" y="164.5" font-size="13.5" fill="#222" text-anchor="start" textLength="15" lengthAdjust="spacing" stroke="#222" stroke-width="0.2"  >60</text>
<text x="33.7" y="245.7" font-size="13.5" fill="#222" text-anchor="start" textLength="15" lengthAdjust="spacing" stroke="#222" stroke-width="0.2"  >20</text>
<text x="75.1" y="142" font-size="14" fill="#222" text-anchor="middle" stroke="#222" stroke-width="0.2"  >50</text>
<text x="168.6" y="142" font-size="14" fill="#222" text-anchor="middle" stroke="#222" stroke-width="0.2"  >250</text>
<text x="75.1" y="295.6" font-size="14" fill="#222" text-anchor="middle" stroke="#222" stroke-width="0.2"  >50</text>
<text x="168.6" y="295.6" font-size="14" fill="#222" text-anchor="middle" stroke="#222" stroke-width="0.2"  >250</text>
<text x="120.8" y="150.7" font-size="14.4" text-anchor="middle">-<tspan font-style="italic">h</tspan> (nm)</text>
<text x="120.8" y="305.6" font-size="14.4" text-anchor="middle">-<tspan font-style="italic">h</tspan> (nm)</text>
<text transform="translate(29.6,92.8) rotate(-90)" font-size="14"><tspan font-style="italic">H</tspan> (GPa)</text>
<text transform="translate(29.6,245.7) rotate(-90)" font-size="14"><tspan font-style="italic">E</tspan><tspan dx="4"> (GPa)</tspan></text>
<text transform="translate(72,85.3) rotate(-90)" font-size="12.5" fill="#8b6a3e" textLength="77" lengthAdjust="spacingAndGlyphs">Turning depth</text>
</g>
</svg></body></html>
